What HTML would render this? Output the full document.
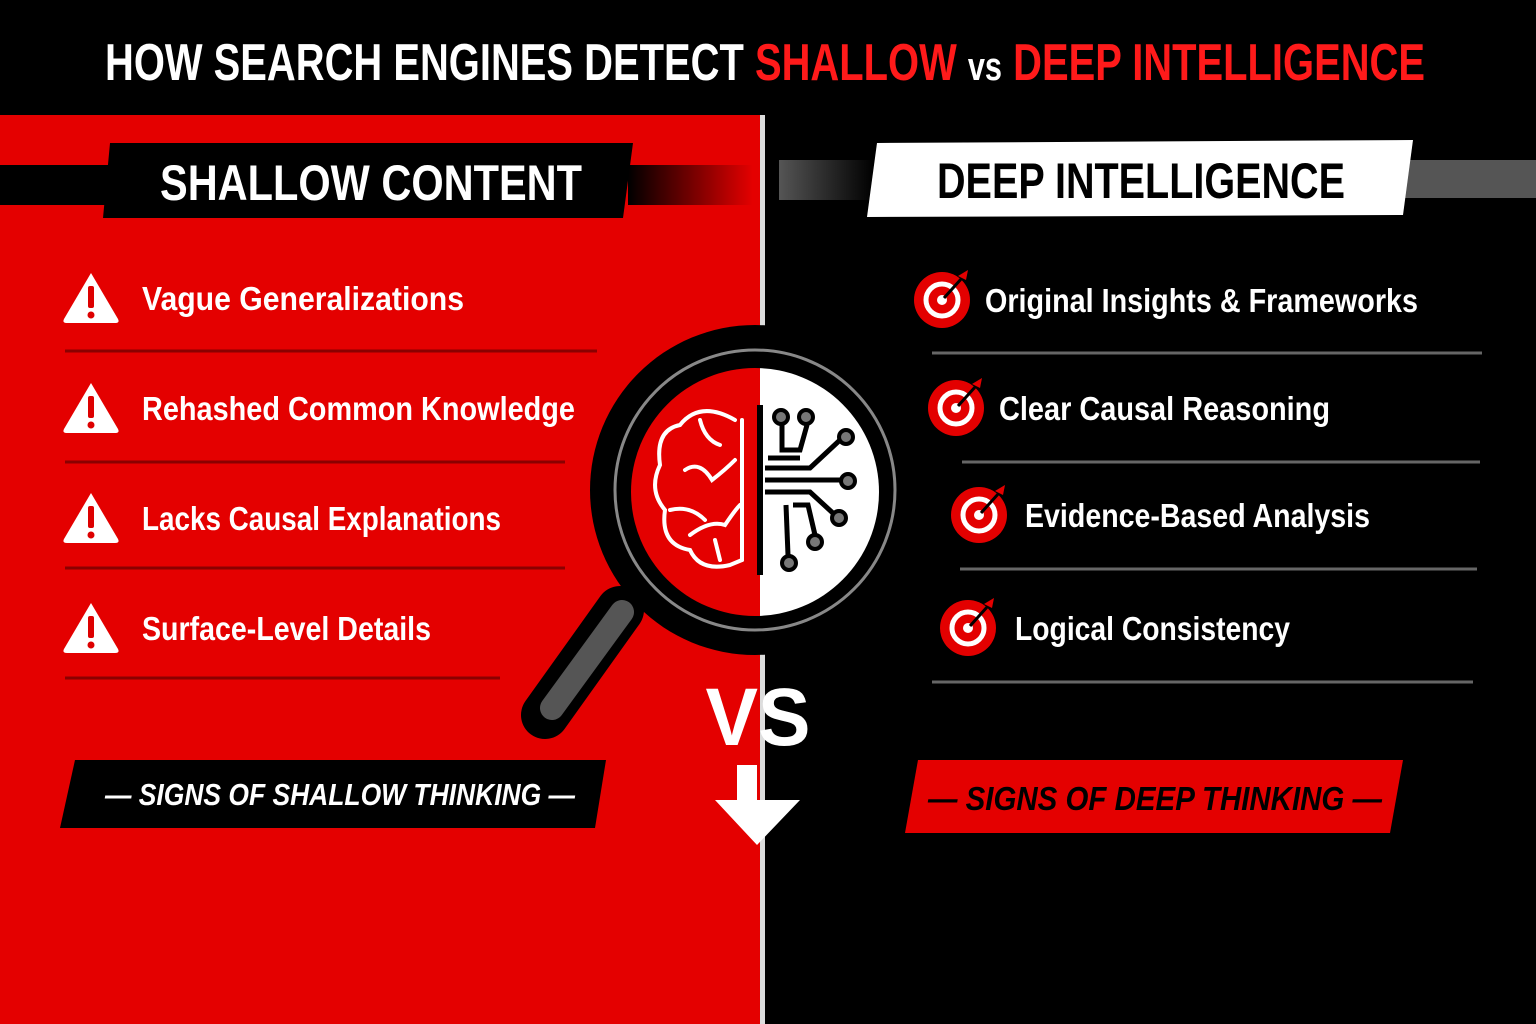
<!DOCTYPE html>
<html><head><meta charset="utf-8"><style>html,body{margin:0;padding:0;background:#000}svg{display:block}</style></head>
<body>
<svg width="1536" height="1024" viewBox="0 0 1536 1024" xmlns="http://www.w3.org/2000/svg" font-family="'Liberation Sans Narrow','Liberation Sans',sans-serif" font-weight="bold">
<defs>
<linearGradient id="gl" x1="0" x2="1"><stop offset="0" stop-color="#000"/><stop offset="1" stop-color="#000" stop-opacity="0"/></linearGradient>
<linearGradient id="gr" x1="0" x2="1"><stop offset="0" stop-color="#555" stop-opacity="0"/><stop offset="1" stop-color="#555"/></linearGradient>
<g id="warn"><path d="M29 2 L56 48 Q58 52 53 52 L5 52 Q0 52 2 48 Z" fill="#fff"/><rect x="26" y="15" width="6" height="22" rx="2" fill="#d00"/><circle cx="29" cy="44" r="3.5" fill="#d00"/></g>
<g id="tgt"><circle r="28" fill="#e30000"/><circle r="16" fill="none" stroke="#fff" stroke-width="5"/><circle r="5" fill="#fff"/><line x1="2" y1="-2" x2="20" y2="-22" stroke="#000" stroke-width="3"/><path d="M16 -24 L26 -30 L24 -20 Z" fill="#e30000"/></g>
</defs>
<rect width="1536" height="1024" fill="#000"/>
<rect x="0" y="115" width="762" height="909" fill="#e40000"/>
<rect x="760" y="115" width="5" height="909" fill="#ddd"/>
<text x="765" y="80" text-anchor="middle" font-size="52" fill="#fff" textLength="1320" lengthAdjust="spacingAndGlyphs">HOW SEARCH ENGINES DETECT <tspan fill="#ff1a1a">SHALLOW</tspan> <tspan font-size="40">vs</tspan> <tspan fill="#ff1a1a">DEEP INTELLIGENCE</tspan></text>
<!-- left banner -->
<rect x="0" y="165" width="108" height="40" fill="#000"/>
<rect x="628" y="165" width="125" height="40" fill="url(#gl)"/>
<path d="M110 143 L633 143 L623 218 L103 218 Z" fill="#000"/>
<text x="371" y="200" text-anchor="middle" font-size="50" fill="#fff" textLength="422" lengthAdjust="spacingAndGlyphs">SHALLOW CONTENT</text>
<!-- right banner -->
<rect x="780" y="160" width="95" height="40" fill="url(#gr)" transform="rotate(180 827 180)"/>
<rect x="1405" y="160" width="131" height="38" fill="#555"/>
<path d="M877 143 L1413 140 L1403 215 L867 217 Z" fill="#fff"/>
<text x="1141" y="198" text-anchor="middle" font-size="50" fill="#000" textLength="408" lengthAdjust="spacingAndGlyphs">DEEP INTELLIGENCE</text>
<!-- left items -->
<g fill="#fff" font-size="33">
<use href="#warn" x="62" y="271"/><text x="142" y="310" textLength="322" lengthAdjust="spacingAndGlyphs">Vague Generalizations</text>
<use href="#warn" x="62" y="381"/><text x="142" y="420" textLength="433" lengthAdjust="spacingAndGlyphs">Rehashed Common Knowledge</text>
<use href="#warn" x="62" y="491"/><text x="142" y="530" textLength="359" lengthAdjust="spacingAndGlyphs">Lacks Causal Explanations</text>
<use href="#warn" x="62" y="601"/><text x="142" y="640" textLength="289" lengthAdjust="spacingAndGlyphs">Surface-Level Details</text>
</g>
<g stroke="#8a0000" stroke-width="3">
<line x1="65" y1="351" x2="597" y2="351"/><line x1="65" y1="462" x2="565" y2="462"/><line x1="65" y1="568" x2="565" y2="568"/><line x1="65" y1="678" x2="500" y2="678"/>
</g>
<!-- right items -->
<g fill="#fff" font-size="33">
<use href="#tgt" x="942" y="300"/><text x="985" y="312" textLength="433" lengthAdjust="spacingAndGlyphs">Original Insights &amp; Frameworks</text>
<use href="#tgt" x="956" y="408"/><text x="999" y="420" textLength="331" lengthAdjust="spacingAndGlyphs">Clear Causal Reasoning</text>
<use href="#tgt" x="979" y="515"/><text x="1025" y="527" textLength="345" lengthAdjust="spacingAndGlyphs">Evidence-Based Analysis</text>
<use href="#tgt" x="968" y="628"/><text x="1015" y="640" textLength="275" lengthAdjust="spacingAndGlyphs">Logical Consistency</text>
</g>
<g stroke="#666" stroke-width="3">
<line x1="932" y1="353" x2="1482" y2="353"/><line x1="962" y1="462" x2="1480" y2="462"/><line x1="960" y1="569" x2="1477" y2="569"/><line x1="932" y1="682" x2="1473" y2="682"/>
</g>
<!-- magnifier -->
<line x1="620" y1="610" x2="545" y2="715" stroke="#000" stroke-width="48" stroke-linecap="round"/>
<line x1="622" y1="612" x2="552" y2="708" stroke="#555" stroke-width="24" stroke-linecap="round"/>
<circle cx="755" cy="490" r="165" fill="#000"/>
<circle cx="755" cy="490" r="140" fill="none" stroke="#888" stroke-width="3"/>
<clipPath id="lens"><circle cx="755" cy="492" r="124"/></clipPath>
<g clip-path="url(#lens)">
<rect x="620" y="360" width="140" height="270" fill="#e40000"/>
<rect x="760" y="360" width="140" height="270" fill="#fff"/>
</g>
<rect x="757" y="405" width="6" height="170" fill="#000"/>
<g fill="none" stroke="#fff" stroke-width="4" stroke-linecap="round">
<path d="M735 420 Q700 400 680 425 Q655 430 660 465 Q648 490 665 510 Q660 545 690 550 Q700 572 730 565 L742 560"/>
<path d="M742 420 L742 560"/>
<path d="M700 420 Q705 440 720 445"/><path d="M685 470 Q700 460 712 480 Q725 470 735 460"/><path d="M670 510 Q690 505 705 520"/><path d="M690 535 Q710 520 725 525 Q735 510 740 505"/><path d="M715 540 L720 560"/>
</g>
<g fill="none" stroke="#000" stroke-width="5">
<path d="M765 468 L810 468 L840 440"/><path d="M765 480 L850 480"/><path d="M765 492 L810 492 L835 515"/>
<path d="M782 425 L782 450 L800 450 L807 425"/><path d="M768 458 L800 458"/>
<path d="M786 505 L788 555"/><path d="M793 505 L808 505 L815 535"/>
</g>
<g fill="#777" stroke="#000" stroke-width="4">
<circle cx="781" cy="417" r="7"/><circle cx="806" cy="417" r="7"/><circle cx="846" cy="437" r="7"/><circle cx="848" cy="481" r="7"/><circle cx="839" cy="518" r="7"/><circle cx="815" cy="542" r="7"/><circle cx="789" cy="563" r="7"/>
</g>
<!-- VS & arrow -->
<text x="758" y="745" text-anchor="middle" font-size="82" fill="#fff" textLength="105" lengthAdjust="spacingAndGlyphs">VS</text>
<path d="M737 765 L757 765 L757 800 L800 800 L757 845 L715 800 L737 800 Z" fill="#fff"/>
<!-- bottom banners -->
<path d="M75 760 L606 760 L595 828 L60 828 Z" fill="#000"/>
<text x="340" y="805" text-anchor="middle" font-size="31" font-style="italic" fill="#fff" textLength="470" lengthAdjust="spacingAndGlyphs">— SIGNS OF SHALLOW THINKING —</text>
<path d="M918 760 L1403 760 L1390 833 L905 833 Z" fill="#e40000"/>
<text x="1155" y="810" text-anchor="middle" font-size="33" font-style="italic" fill="#000" textLength="454" lengthAdjust="spacingAndGlyphs">— SIGNS OF DEEP THINKING —</text>
</svg>
</body></html>
